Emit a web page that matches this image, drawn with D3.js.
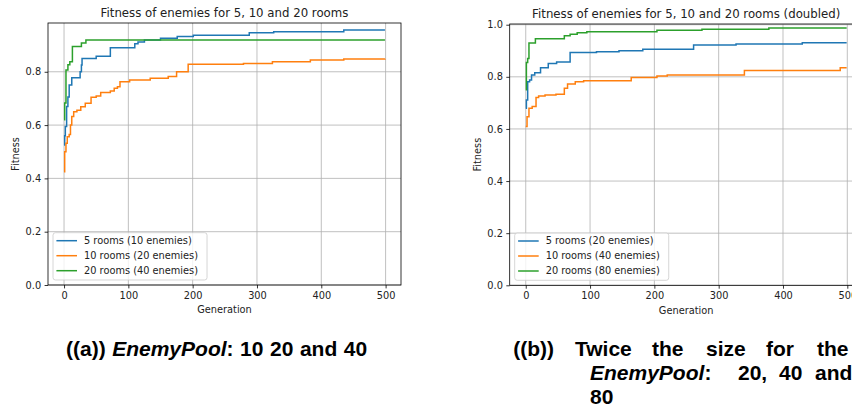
<!DOCTYPE html>
<html>
<head>
<meta charset="utf-8">
<script src="https://cdn.jsdelivr.net/npm/d3@7"></script>
<style>
  body { margin: 0; background: #fff; }
  svg { display: block; }
  .tick text { font-family: "DejaVu Sans"; font-size: 9.8px; fill: #222; }
  .cap { font-family: "Liberation Sans"; font-weight: bold; font-size: 21px; fill: #000; }
</style>
</head>
<body>
<svg id="chart" width="852" height="410"></svg>
<script>
const xTicks = [0, 100, 200, 300, 400, 500];
const yTicksA = [0, 0.2, 0.4, 0.6, 0.8];
const yTicksB = [0, 0.2, 0.4, 0.6, 0.8, 1.0];
const colors = ["#1f77b4", "#ff7f0e", "#2ca02c"];

const labelsA = ["5 rooms (10 enemies)", "10 rooms (20 enemies)", "20 rooms (40 enemies)"];
const labelsB = ["5 rooms (20 enemies)", "10 rooms (40 enemies)", "20 rooms (80 enemies)"];

// [generation, best fitness] - value holds until the next generation listed
const rooms5A = [[0,0.525],[1,0.56],[2,0.595],[4,0.67],[6,0.705],[8,0.75],[12,0.778],[25,0.80],[27,0.825],[28,0.85],
  [50,0.858],[72,0.89],[110,0.905],[115,0.912],[125,0.919],[150,0.926],[176,0.932],[201,0.937],[288,0.946],[326,0.95],
  [435,0.957],[499,0.957]];
const rooms10A = [[0,0.425],[1,0.5],[3,0.532],[5,0.556],[8,0.565],[10,0.6],[12,0.632],[15,0.65],[20,0.656],[26,0.669],
  [33,0.682],[42,0.704],[50,0.709],[57,0.722],[72,0.728],[78,0.738],[83,0.744],[87,0.763],[102,0.769],[134,0.776],
  [162,0.782],[175,0.80],[193,0.828],[279,0.831],[324,0.838],[383,0.844],[435,0.848],[499,0.849]];
const rooms20A = [[0,0.62],[1,0.683],[3,0.807],[6,0.826],[9,0.838],[13,0.895],[27,0.908],[34,0.919],[499,0.919]];

const rooms5B = [[0,0.679],[1,0.711],[3,0.781],[6,0.788],[9,0.807],[14,0.816],[23,0.835],[35,0.851],[48,0.857],
  [69,0.893],[110,0.896],[145,0.9],[182,0.906],[261,0.922],[327,0.926],[430,0.931],[499,0.931]];
const rooms10B = [[0,0.609],[2,0.647],[5,0.679],[10,0.686],[16,0.721],[20,0.726],[30,0.73],[47,0.733],[60,0.756],
  [65,0.772],[77,0.781],[90,0.785],[164,0.797],[204,0.803],[220,0.807],[340,0.824],[489,0.835],[499,0.835]];
const rooms20B = [[0,0.75],[1,0.855],[3,0.87],[5,0.93],[15,0.946],[60,0.958],[69,0.963],[80,0.969],[95,0.973],
  [204,0.979],[274,0.983],[378,0.987],[499,0.987]];

const svg = d3.select("#chart");
svg.append("rect").attr("width", 852).attr("height", 410).attr("fill", "#fff");

function drawPanel(p) {
  const g = svg.append("g").attr("transform", "translate(" + p.left + "," + p.top + ")");
  const x = d3.scaleLinear().domain([-24.95, 523.95]).range([0, p.width]);
  const y = d3.scaleLinear().domain([0, p.yMax]).range([p.height, 0]);

  // grid
  g.selectAll(".gx").data(xTicks).join("line")
    .attr("x1", d => x(d)).attr("x2", d => x(d)).attr("y1", 0).attr("y2", p.height)
    .attr("stroke", "#b0b0b0").attr("stroke-width", 0.8);
  g.selectAll(".gy").data(p.yTicks).join("line")
    .attr("x1", 0).attr("x2", p.width).attr("y1", d => y(d)).attr("y2", d => y(d))
    .attr("stroke", "#b0b0b0").attr("stroke-width", 0.8);

  // series
  const line = d3.line().x(d => x(d[0])).y(d => y(d[1])).curve(d3.curveStepAfter);
  p.series.forEach((s, i) => {
    g.append("path").datum(s).attr("d", line)
      .attr("fill", "none").attr("stroke", colors[i]).attr("stroke-width", 1.5);
  });

  // axes
  const ax = g.append("g").attr("transform", "translate(0," + p.height + ")")
    .call(d3.axisBottom(x).tickValues(xTicks).tickSize(3.4).tickPadding(3.4).tickSizeOuter(0));
  const ay = g.append("g")
    .call(d3.axisLeft(y).tickValues(p.yTicks).tickFormat(d3.format(".1f")).tickSize(3.4).tickPadding(3.4).tickSizeOuter(0));
  [ax, ay].forEach(a => {
    a.select(".domain").remove();
    a.selectAll(".tick line").attr("stroke", "#000").attr("stroke-width", 0.8);
  });

  g.append("rect").attr("width", p.width).attr("height", p.height)
    .attr("fill", "none").attr("stroke", "#000").attr("stroke-width", 0.8);

  // texts
  g.append("text").attr("x", p.width / 2).attr("y", -9.7).attr("dy", "0.35em")
    .attr("text-anchor", "middle").attr("font-family", "DejaVu Sans").attr("font-size", 11.76)
    .attr("fill", "#222").text(p.title);
  g.append("text").attr("x", p.width / 2).attr("y", p.height + 25).attr("dy", "0.35em")
    .attr("text-anchor", "middle").attr("font-family", "DejaVu Sans").attr("font-size", 9.8)
    .attr("fill", "#222").text("Generation");
  g.append("text").attr("transform", "translate(-32.5," + (p.height / 2) + ") rotate(-90)")
    .attr("dy", "0.35em").attr("text-anchor", "middle").attr("font-family", "DejaVu Sans")
    .attr("font-size", 9.8).attr("fill", "#222").text("Fitness");

  // legend
  const lg = g.append("g").attr("transform", "translate(5," + (p.height - 52.3) + ")");
  const box = lg.append("rect").attr("rx", 2.5).attr("height", 47.3)
    .attr("fill", "#fff").attr("fill-opacity", 0.8).attr("stroke", "#cccccc").attr("stroke-width", 0.8);
  let maxW = 0;
  p.labels.forEach((lab, i) => {
    const cy = 8 + i * 15;
    lg.append("line").attr("x1", 3.4).attr("x2", 24).attr("y1", cy).attr("y2", cy)
      .attr("stroke", colors[i]).attr("stroke-width", 1.5);
    const t = lg.append("text").attr("x", 31).attr("y", cy).attr("dy", "0.35em")
      .attr("font-family", "DejaVu Sans").attr("font-size", 9.8).attr("fill", "#222").text(lab);
    maxW = Math.max(maxW, t.node().getComputedTextLength());
  });
  box.attr("width", 31 + maxW + 9);
}

drawPanel({ left: 48, top: 23, width: 353, height: 262, yMax: 0.983, yTicks: yTicksA,
  title: "Fitness of enemies for 5, 10 and 20 rooms", labels: labelsA, series: [rooms5A, rooms10A, rooms20A] });
drawPanel({ left: 509.7, top: 24, width: 353, height: 261.3, yMax: 1.0027, yTicks: yTicksB,
  title: "Fitness of enemies for 5, 10 and 20 rooms (doubled)", labels: labelsB, series: [rooms5B, rooms10B, rooms20B] });

// sub-captions
const capA = svg.append("text").attr("class", "cap").attr("x", 66).attr("y", 356).attr("word-spacing", 0.7);
capA.append("tspan").text("((a)) ");
capA.append("tspan").attr("font-style", "italic").text("EnemyPool");
capA.append("tspan").text(": 10 20 and 40");

const capB = [
  [["((b))", 513.3, 356], ["Twice", 575, 356], ["the", 652, 356], ["size", 706, 356], ["for", 766, 356], ["the", 817, 356]],
  [["EnemyPool", 590, 380, true], ["20,", 738, 380], ["40", 779, 380], ["and", 815, 380]],
  [["80", 590, 404]]
];
capB.forEach(row => row.forEach(w => {
  const t = svg.append("text").attr("class", "cap").attr("x", w[1]).attr("y", w[2]);
  if (w[3]) {
    t.append("tspan").attr("font-style", "italic").text(w[0]);
    t.append("tspan").text(":");
  } else {
    t.text(w[0]);
  }
}));
</script>
</body>
</html>
